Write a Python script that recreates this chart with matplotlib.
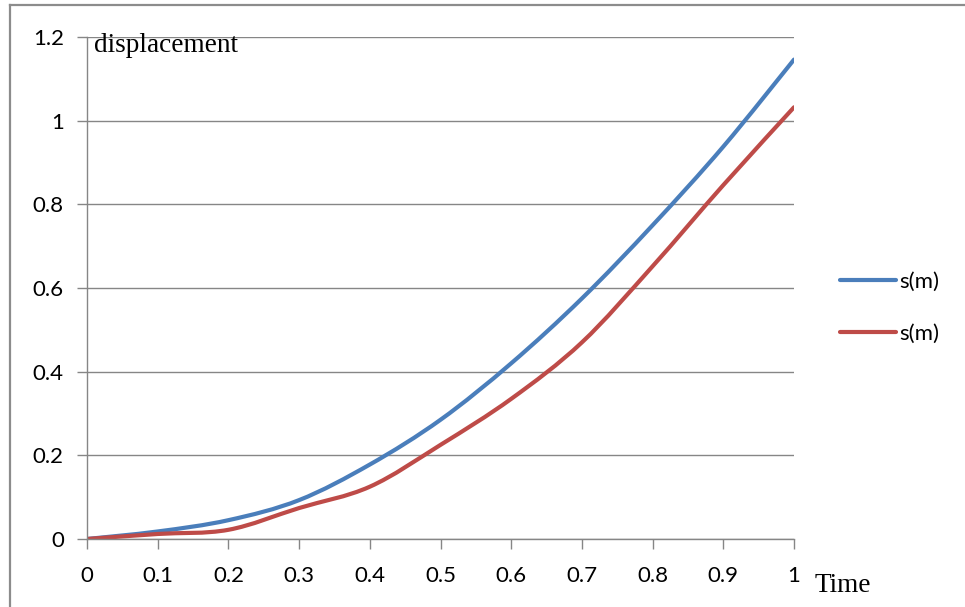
import matplotlib.pyplot as plt
from matplotlib.lines import Line2D
from matplotlib.path import Path
from matplotlib.patches import PathPatch

# valores
tempo = [0, 0.1, 0.2, 0.3, 0.4, 0.5, 0.6, 0.7, 0.8, 0.9, 1.0]
s_azul = [0, 0.018, 0.045, 0.093, 0.178, 0.285, 0.42, 0.575, 0.75, 0.938, 1.146]
s_verm = [0, 0.012, 0.022, 0.074, 0.125, 0.225, 0.335, 0.47, 0.652, 0.846, 1.032]
rotulos = ['s(m)', 's(m)']
yticks = [0, 0.2, 0.4, 0.6, 0.8, 1, 1.2]
xticks = [0, 0.1, 0.2, 0.3, 0.4, 0.5, 0.6, 0.7, 0.8, 0.9, 1]

W, H = 965, 607
cores = ['#4A7EBB', '#BE4B48']
cinza = '#868686'


def linha_suave(x, y):
    # linha suavizada estilo Excel (bezier passando pelos pontos)
    verts = [(x[0], y[0])]
    codes = [Path.MOVETO]
    n = len(x)
    for i in range(n - 1):
        i0 = max(i - 1, 0)
        i3 = min(i + 2, n - 1)
        c1 = (x[i] + (x[i + 1] - x[i0]) / 6, y[i] + (y[i + 1] - y[i0]) / 6)
        c2 = (x[i + 1] - (x[i3] - x[i]) / 6, y[i + 1] - (y[i3] - y[i]) / 6)
        verts += [c1, c2, (x[i + 1], y[i + 1])]
        codes += [Path.CURVE4] * 3
    return Path(verts, codes)


fig = plt.figure(figsize=(W / 100, H / 100), dpi=100)
ax = fig.add_axes([87 / W, (H - 539) / H, 707 / W, 502 / H])

for serie, cor in zip([s_azul, s_verm], cores):
    ax.add_patch(PathPatch(linha_suave(tempo, serie), fill=False, edgecolor=cor,
                           linewidth=3, capstyle='round', joinstyle='round'))

ax.set_xlim(0, 1)
ax.set_ylim(0, 1.2)
ax.set_xticks(xticks)
ax.set_xticklabels([f'{v:g}' for v in xticks])
ax.set_yticks(yticks)
ax.set_yticklabels([f'{v:g}' for v in yticks])

for lado in ['top', 'right']:
    ax.spines[lado].set_visible(False)
for lado in ['left', 'bottom']:
    ax.spines[lado].set_color(cinza)
    ax.spines[lado].set_linewidth(1)

ax.grid(axis='y', color=cinza, linewidth=1)
ax.set_axisbelow(True)
ax.tick_params(axis='both', direction='out', length=7.2, width=1, color=cinza,
               labelsize=16, labelcolor='black')
ax.tick_params(axis='x', pad=12)
ax.tick_params(axis='y', pad=9.5)
for lbl in ax.get_xticklabels() + ax.get_yticklabels():
    lbl.set_fontfamily('Lato')

handles = [Line2D([], [], color=c, linewidth=3, solid_capstyle='round') for c in cores]
ax.legend(handles, rotulos, loc='upper left', bbox_to_anchor=(840 / W, (H - 272) / H),
          bbox_transform=fig.transFigure, frameon=False, borderpad=0,
          borderaxespad=0, handlelength=2.5, handletextpad=0.15,
          labelspacing=1.42, prop={'family': 'Lato', 'size': 16})

fig.text(94 / W, (H - 52) / H, 'displacement', family='Liberation Serif',
         fontsize=19.6, va='baseline')
fig.text(815 / W, (H - 592) / H, 'Time', family='Liberation Serif',
         fontsize=19.6, va='baseline')

# moldura externa (topo e esquerda)
fig.add_artist(Line2D([10 / W, 10 / W], [0, (H - 5) / H], color='#8c8c8c',
                      linewidth=1.6, transform=fig.transFigure))
fig.add_artist(Line2D([10 / W, 1], [(H - 5) / H, (H - 5) / H], color='#8c8c8c',
                      linewidth=1.6, transform=fig.transFigure))

fig.savefig('out.png', dpi=100)
